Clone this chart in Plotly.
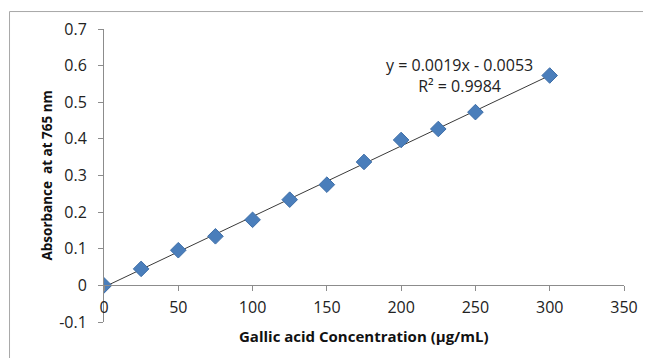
import numpy as np
import plotly.graph_objects as go

# Data
conc = [0, 25, 50, 75, 100, 125, 150, 175, 200, 225, 250, 300]
absorb = [0.0, 0.045, 0.096, 0.134, 0.179, 0.234, 0.275, 0.337, 0.397, 0.427, 0.473, 0.573]
x_ticks = [0, 50, 100, 150, 200, 250, 300, 350]
y_ticks = [-0.1, 0, 0.1, 0.2, 0.3, 0.4, 0.5, 0.6, 0.7]
y_tick_text = ["-0.1", "0", "0.1", "0.2", "0.3", "0.4", "0.5", "0.6", "0.7"]
eq_text = "y = 0.0019x - 0.0053<br>R² = 0.9984"
x_title = "<b>Gallic acid Concentration (µg/mL)</b>"
y_title = "<b>Absorbance  at at 765 nm</b>"

slope, intercept = np.polyfit(conc, absorb, 1)
trend_x = [min(conc), max(conc)]
trend_y = [slope * v + intercept for v in trend_x]

FONT = "Open Sans"
GRAY = "#8c8c8c"
TXT = "#222222"

fig = go.Figure()
fig.add_trace(go.Scatter(x=trend_x, y=trend_y, mode="lines",
                         line=dict(color="#3a3a3a", width=1), showlegend=False,
                         hoverinfo="skip"))
fig.add_trace(go.Scatter(x=conc, y=absorb, mode="markers",
                         marker=dict(symbol="diamond", size=12, color="#4A7EBB",
                                     line=dict(color="#3F6FA8", width=1)),
                         showlegend=False))

# page body has an 8px margin, so the figure is sized/offset to compensate
fig.update_layout(
    width=643, height=350,
    margin=dict(l=96, r=27, t=21, b=35.5),
    paper_bgcolor="white", plot_bgcolor="white",
    font=dict(family=FONT, size=16, color=TXT),
    xaxis=dict(range=[0, 350], tickvals=x_ticks, showgrid=False, zeroline=False,
               showline=True, linecolor=GRAY, linewidth=1,
               ticks="outside", ticklen=5, tickcolor=GRAY, ticklabelstandoff=2,
               anchor="free", position=0.125, automargin=False,
               tickfont=dict(family=FONT, size=16, color=TXT)),
    yaxis=dict(range=[-0.1, 0.7], tickvals=y_ticks, ticktext=y_tick_text,
               showgrid=False, zeroline=False, automargin=False,
               showline=True, linecolor=GRAY, linewidth=1,
               ticks="outside", ticklen=5, tickcolor=GRAY, ticklabelstandoff=8,
               tickfont=dict(family=FONT, size=16, color=TXT)),
    annotations=[
        dict(text=eq_text, x=0.684, y=0.840, xref="paper", yref="paper",
             xanchor="center", yanchor="middle",
             showarrow=False, align="center",
             font=dict(family=FONT, size=16, color=TXT)),
        dict(text=x_title, x=0.5, y=-0.049, xref="paper", yref="paper",
             xanchor="center", yanchor="middle", showarrow=False,
             font=dict(family=FONT, size=15, color="#111111")),
        dict(text=y_title, x=-0.1115, y=0.5, xref="paper", yref="paper",
             xanchor="center", yanchor="middle", showarrow=False, textangle=-90,
             font=dict(family=FONT, size=13.5, color="#111111")),
    ],
    shapes=[
        dict(type="line", xref="paper", yref="paper", x0=-0.1817, x1=1.3,
             y0=1.0596, y1=1.0596, line=dict(color="#a8a8a8", width=1)),
        dict(type="line", xref="paper", yref="paper", x0=-0.1817, x1=-0.1817,
             y0=-0.2, y1=1.0596, line=dict(color="#a8a8a8", width=1)),
    ],
)

fig.write_html("out.html")
